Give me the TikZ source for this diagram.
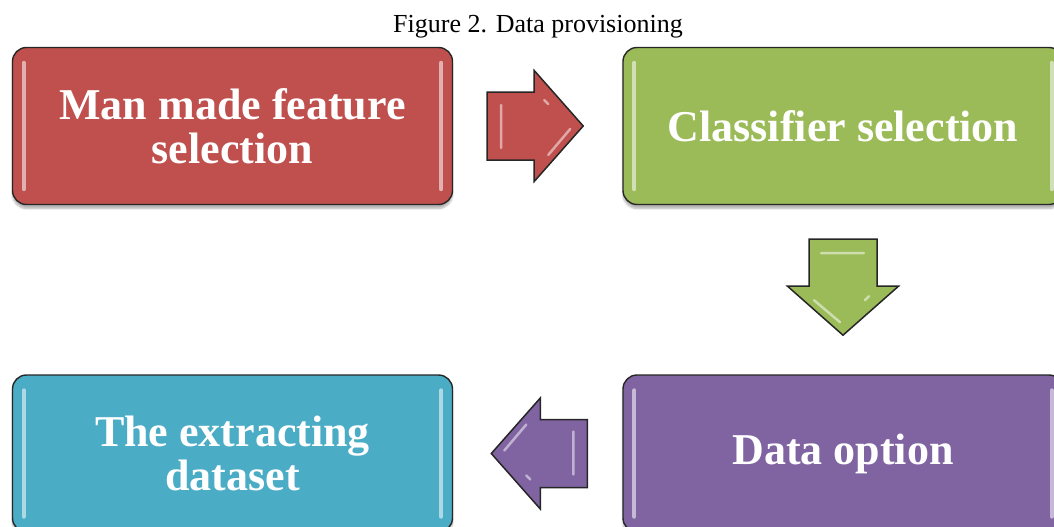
\documentclass[tikz,border=0pt]{standalone}
\usepackage{fontspec}
\setmainfont{Liberation Serif}
\usepackage{tikz}
\usetikzlibrary{calc,shadows.blur}
\definecolor{featred}{HTML}{C0504D}
\definecolor{clfgreen}{HTML}{9BBB59}
\definecolor{optpurple}{HTML}{8064A2}
\definecolor{setblue}{HTML}{4BACC6}
\newcommand{\blockarrowpath}{(0,-34) -- (47,-34) -- (47,-55.5) -- (96,0) -- (47,55.5) -- (47,34) -- (0,34) -- cycle}
\newcommand{\arrowglint}{(14,-21) -- (14,22) (61,29) -- (83,3) (57,-26) -- (61,-22)}

\begin{document}
\begin{tikzpicture}[
  x=1pt, y=-1pt,
  box/.style={draw=black!85, line width=1.4pt, rounded corners=14pt, align=center,
    minimum width=440pt, minimum height=157pt, inner sep=0pt, text=white,
    font=\bfseries\fontsize{44}{44}\selectfont,
    blur shadow={shadow xshift=0pt, shadow yshift=-4pt, shadow opacity=30, shadow blur steps=6}},
  glint/.style={line width=4pt, line cap=round, draw=white, opacity=0.55},
  blockarr/.style={draw=black!85, line width=1.5pt, line join=miter},
  arrglint/.style={line width=2.5pt, line cap=round, draw=white, opacity=0.5}
]
\useasboundingbox (0,0) rectangle (1054,527);
\node[font=\fontsize{26}{28}\selectfont] (title) at (538,27) {Figure 2. Data provisioning};

\node[box, fill=featred] (feat) at (232.5,126) {Man made feature\\selection};
\node[box, fill=clfgreen] (clf) at (843,126) {Classifier selection};
\node[box, fill=optpurple] (opt) at (843,453.5) {Data option};
\node[box, fill=setblue] (data) at (232.5,453.5) {The extracting\\dataset};

% light bars inside the boxes
\foreach \b in {feat,clf,opt,data}{
  \draw[glint] ($(\b.north west)+(12,16)$) -- ($(\b.south west)+(12,-16)$);
  \draw[glint] ($(\b.north east)+(-12,16)$) -- ($(\b.south east)+(-12,-16)$);
}

% block arrows between the boxes
\coordinate (ar1) at ($(feat.east)+(34,0)$);
\coordinate (ar2) at ($(clf.south)+(0,34)$);
\coordinate (ar3) at ($(opt.west)+(-35,0)$);

\draw[blockarr, fill=featred, shift={(ar1)}] \blockarrowpath;
\draw[arrglint, shift={(ar1)}] \arrowglint;
\draw[blockarr, fill=clfgreen, shift={(ar2)}, rotate=-90] \blockarrowpath;
\draw[arrglint, shift={(ar2)}, rotate=-90] \arrowglint;
\draw[blockarr, fill=optpurple, shift={(ar3)}, rotate=180] \blockarrowpath;
\draw[arrglint, shift={(ar3)}, rotate=180] \arrowglint;
\end{tikzpicture}
\end{document}
